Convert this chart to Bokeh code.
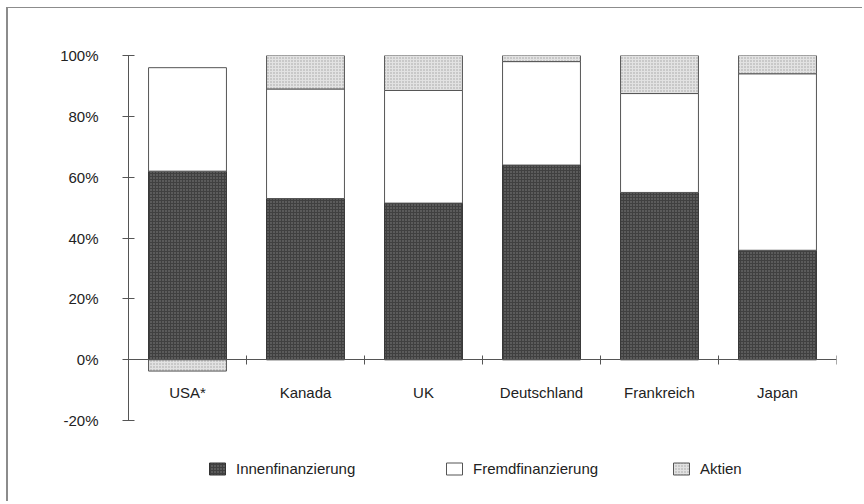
from bokeh.plotting import figure
from bokeh.models import (Range1d, LinearAxis, FixedTicker, PrintfTickFormatter,
                          Legend, LegendItem)
from bokeh.embed import file_html
from bokeh.resources import INLINE

# ---- data (percent of financing) ----
countries = ["USA*", "Kanada", "UK", "Deutschland", "Frankreich", "Japan"]
innen = [62, 53, 51.5, 64, 55, 36]
fremd = [34, 36, 37, 34, 32.5, 58]
aktien = [-3.7, 11, 11.5, 2, 12.5, 6]
y_ticks = [-20, 0, 20, 40, 60, 80, 100]

xs = [i + 0.5 for i in range(len(countries))]
innen_top = innen
fremd_bot = innen
fremd_top = [a + b for a, b in zip(innen, fremd)]
akt_bot = [ft if a >= 0 else 0 for ft, a in zip(fremd_top, aktien)]
akt_top = [ft + a if a >= 0 else a for ft, a in zip(fremd_top, aktien)]

FONT = "Liberation Sans"

p = figure(width=856, height=494, output_backend="svg", toolbar_location=None,
           x_range=Range1d(0, len(countries)), y_range=Range1d(-43.6, 100),
           x_axis_type=None, y_axis_type=None,
           min_border_left=120, min_border_right=28, min_border_top=47, min_border_bottom=10)
p.outline_line_color = None
p.xgrid.visible = False
p.ygrid.visible = False
p.background_fill_color = "white"
p.border_fill_color = "white"
p.styles = {"margin-left": "6px", "margin-top": "7px",
            "border-left": "2px solid #8c8c8c", "border-top": "1px solid #8c8c8c"}

W = 0.66
r_innen = p.vbar(x=xs, bottom=0, top=innen_top, width=W, fill_color="#404040",
                 line_color="#333333", line_width=1,
                 hatch_pattern=".", hatch_color="#858585", hatch_scale=3, hatch_weight=1)
r_fremd = p.vbar(x=xs, bottom=fremd_bot, top=fremd_top, width=W, fill_color="white",
                 line_color="#555555", line_width=1)
r_akt = p.vbar(x=xs, bottom=akt_bot, top=akt_top, width=W, fill_color="#e2e2e2",
               line_color="#555555", line_width=1,
               hatch_pattern=".", hatch_color="#a0a0a0", hatch_scale=3, hatch_weight=1)

# y axis
yax = LinearAxis(ticker=FixedTicker(ticks=y_ticks, minor_ticks=[]),
                 formatter=PrintfTickFormatter(format="%d%%"), bounds=(-20, 100))
yax.axis_line_color = "#555555"
yax.major_tick_line_color = "#555555"
yax.major_tick_in = 6
yax.major_tick_out = 6
yax.minor_tick_line_color = None
yax.major_label_standoff = 24
yax.major_label_text_font = FONT
yax.major_label_text_font_size = "15px"
yax.major_label_text_color = "#222222"
p.add_layout(yax, "left")

# x axis at 0
xax = LinearAxis(ticker=FixedTicker(ticks=xs, minor_ticks=list(range(len(countries) + 1))),
                 fixed_location=0, bounds=(0, len(countries)))
xax.major_label_overrides = {x: c for x, c in zip(xs, countries)}
xax.axis_line_color = "#555555"
xax.major_tick_line_color = None
xax.minor_tick_line_color = "#555555"
xax.minor_tick_in = 4
xax.minor_tick_out = 5
xax.major_label_standoff = 18
xax.major_label_text_font = FONT
xax.major_label_text_font_size = "15px"
xax.major_label_text_color = "#222222"
p.add_layout(xax, "below")

labels = ["Innenfinanzierung", "Fremdfinanzierung", "Aktien"]
renderers = [r_innen, r_fremd, r_akt]
offsets = [79, 316, 543]
for lab, r, off in zip(labels, renderers, offsets):
    lg = Legend(items=[LegendItem(label=lab, renderers=[r])], location=(off, 15),
                orientation="horizontal", padding=0, margin=0, spacing=0,
                glyph_width=20, glyph_height=15, label_height=15, label_standoff=9,
                label_text_font=FONT, label_text_font_size="15px",
                label_text_color="#222222", border_line_color=None,
                background_fill_alpha=0)
    p.add_layout(lg, "center")

open("out.html", "w").write(file_html(p, INLINE))
